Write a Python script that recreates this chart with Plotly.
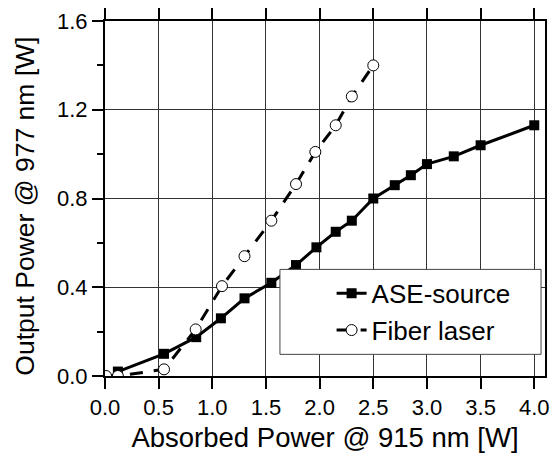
import plotly.graph_objects as go

# Data
ase_x = [0.12, 0.55, 0.85, 1.08, 1.30, 1.55, 1.78, 1.97, 2.15, 2.30, 2.50, 2.70, 2.85, 3.00, 3.25, 3.50, 4.00]
ase_y = [0.02, 0.10, 0.175, 0.26, 0.35, 0.42, 0.50, 0.58, 0.65, 0.70, 0.80, 0.86, 0.905, 0.955, 0.99, 1.04, 1.13]
fib_x = [0.01, 0.12, 0.55, 0.845, 1.09, 1.30, 1.55, 1.78, 1.96, 2.15, 2.30, 2.50]
fib_y = [0.0, 0.0, 0.03, 0.21, 0.405, 0.54, 0.70, 0.865, 1.01, 1.13, 1.26, 1.40]

series_names = ["ASE-source", "Fiber laser"]
x_title = "Absorbed Power @ 915 nm [W]"
y_title = "Output Power @ 977 nm [W]"

FONT = "Liberation Sans, Arial, sans-serif"

fig = go.Figure()
fig.add_trace(go.Scatter(
    x=ase_x, y=ase_y, name=series_names[0], mode="lines+markers",
    line=dict(color="black", width=3),
    marker=dict(symbol="square", size=10, color="black"),
))
fig.add_trace(go.Scatter(
    x=fib_x, y=fib_y, name=series_names[1], mode="lines+markers",
    line=dict(color="black", width=3, dash="13px,11px"),
    marker=dict(symbol="circle", size=11, color="white", line=dict(color="black", width=1)),
))

# legend frame (decoration, paper coordinates)
fig.add_shape(
    type="rect", xref="paper", yref="paper",
    x0=0.3976, x1=0.991, y0=0.061, y1=0.3003,
    fillcolor="white", line=dict(color="#444", width=1), layer="above",
)

# y-axis title as rotated annotation
fig.add_annotation(
    text=y_title, textangle=-90, xref="paper", yref="paper",
    x=0, y=0.477, xanchor="center", yanchor="middle", xshift=-80,
    showarrow=False, font=dict(size=26.5, family=FONT, color="black"),
)

fig.update_layout(
    width=556, height=455,
    margin=dict(l=105, r=7, t=21, b=79),
    paper_bgcolor="white", plot_bgcolor="white",
    font=dict(family=FONT, color="black"),
    legend=dict(
        x=0.515, xanchor="left", y=0.1807, yanchor="middle",
        bgcolor="rgba(0,0,0,0)", borderwidth=0,
        font=dict(size=26, family=FONT, color="black"),
        tracegroupgap=0,
    ),
)
fig.update_xaxes(
    range=[0, 4.1], dtick=0.5, tick0=0, tickformat=".1f",
    ticks="outside", ticklen=11, tickwidth=2, tickcolor="black",
    showline=True, linewidth=2, linecolor="black", mirror="ticks",
    showgrid=True, gridcolor="#333", gridwidth=1, zeroline=False,
    tickfont=dict(size=22, family=FONT, color="black"),
    title=dict(text=x_title, font=dict(size=27.5, family=FONT, color="black"), standoff=8),
)
fig.update_yaxes(
    range=[0, 1.6], dtick=0.4, tick0=0, tickformat=".1f",
    ticks="outside", ticklen=11, tickwidth=2, tickcolor="black",
    showline=True, linewidth=2, linecolor="black", mirror=True,
    showgrid=True, gridcolor="#333", gridwidth=1, zeroline=False,
    minor=dict(dtick=0.2, ticks="outside", ticklen=6, tickwidth=2, tickcolor="black", showgrid=False),
    tickfont=dict(size=22, family=FONT, color="black"),
)

fig.write_html("out.html")
